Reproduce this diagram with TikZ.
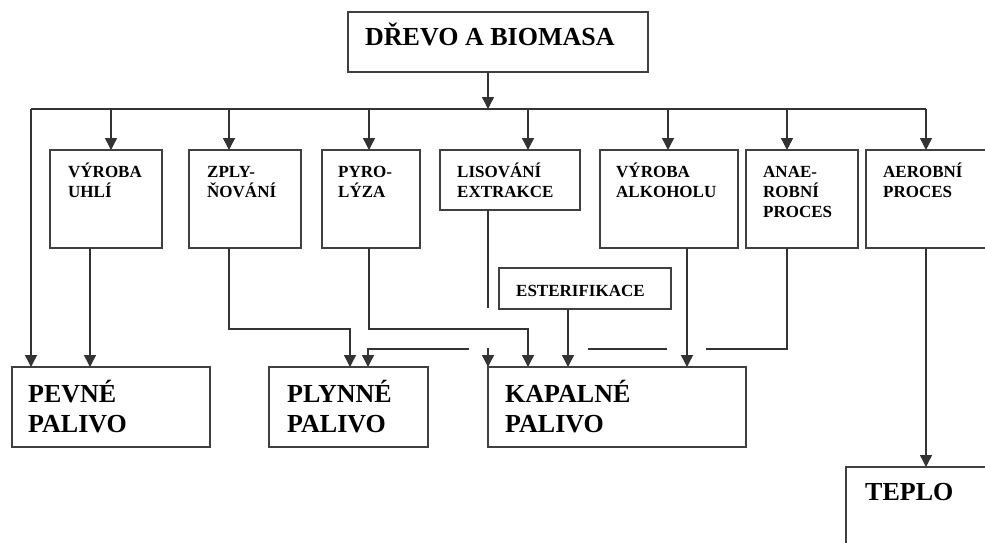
\documentclass[tikz,border=0pt]{standalone}
\usepackage{fontspec}
\setmainfont{Liberation Serif}
\usetikzlibrary{arrows.meta,calc}
\begin{document}
\begin{tikzpicture}[x=1pt,y=-1pt,
  box/.style={draw=black!75, line width=1.4pt, rectangle, inner sep=0pt, outer sep=0pt},
  small/.style={font=\bfseries\fontsize{17}{20}\selectfont, align=left, inner sep=0pt, anchor=base west},
  big/.style={font=\bfseries\fontsize{26}{30}\selectfont, align=left, inner sep=0pt, anchor=base west},
  conn/.style={draw=black!80, line width=1.4pt},
  arr/.style={conn, -{Triangle[width=12pt,length=12pt]}}]
\useasboundingbox (0,0) rectangle (985,542);
\clip (0,0) rectangle (985,542);
\fill[white] (0,0) rectangle (985,542);

% boxes
\node[box, minimum width=300, minimum height=60] (drevo) at (498,42) {};
\node[box, minimum width=112, minimum height=98] (uhli) at (106,199) {};
\node[box, minimum width=112, minimum height=98] (zply) at (245,199) {};
\node[box, minimum width=98, minimum height=98] (pyro) at (371,199) {};
\node[box, minimum width=140, minimum height=60] (lis) at (510,180) {};
\node[box, minimum width=138, minimum height=98] (alk) at (669,199) {};
\node[box, minimum width=112, minimum height=98] (anae) at (802,199) {};
\node[box, minimum width=144, minimum height=98] (aer) at (938,199) {};
\node[box, minimum width=172, minimum height=41] (ester) at (585,288.5) {};
\node[box, minimum width=198, minimum height=80] (pevne) at (111,407) {};
\node[box, minimum width=159, minimum height=80] (plynne) at (348.5,407) {};
\node[box, minimum width=258, minimum height=80] (kapalne) at (617,407) {};
\node[box, minimum width=164, minimum height=113] (teplo) at (928,523.5) {};

% labels (base anchor = baseline of last line)
\node[big] (drevoT) at ($(drevo.north west)+(17,33)$) {DŘEVO A BIOMASA};
\node[small] (uhliT) at ($(uhli.north west)+(18,47)$) {VÝROBA\\UHLÍ};
\node[small] (zplyT) at ($(zply.north west)+(18,47)$) {ZPLY-\\ŇOVÁNÍ};
\node[small] (pyroT) at ($(pyro.north west)+(16,47)$) {PYRO-\\LÝZA};
\node[small] (lisT) at ($(lis.north west)+(17,47)$) {LISOVÁNÍ\\EXTRAKCE};
\node[small] (alkT) at ($(alk.north west)+(16,47)$) {VÝROBA\\ALKOHOLU};
\node[small] (anaeT) at ($(anae.north west)+(17,67)$) {ANAE-\\ROBNÍ\\PROCES};
\node[small] (aerT) at ($(aer.north west)+(17,47)$) {AEROBNÍ\\PROCES};
\node[small] (esterT) at ($(ester.north west)+(17,28)$) {ESTERIFIKACE};
\node[big] (pevneT) at ($(pevne.north west)+(16,65)$) {PEVNÉ\\PALIVO};
\node[big] (plynneT) at ($(plynne.north west)+(18,65)$) {PLYNNÉ\\PALIVO};
\node[big] (kapalneT) at ($(kapalne.north west)+(17,65)$) {KAPALNÉ\\PALIVO};
\node[big] (teploT) at ($(teplo.north west)+(19,33)$) {TEPLO};

% bus
\coordinate (bus) at (488,109);
\coordinate (busL) at (31,109);
\coordinate (busR) at (926,109);
\draw[arr] (drevo.south -| bus) -- (bus);
\draw[conn] (busL) -- (busR);
\draw[arr] (busL) -- (busL |- pevne.north);
\coordinate (d1) at (111,109);
\coordinate (d2) at (229,109);
\coordinate (d3) at (369,109);
\coordinate (d4) at (528,109);
\coordinate (d5) at (668,109);
\coordinate (d6) at (787,109);
\draw[arr] (d1) -- (d1 |- uhli.north);
\draw[arr] (d2) -- (d2 |- zply.north);
\draw[arr] (d3) -- (d3 |- pyro.north);
\draw[arr] (d4) -- (d4 |- lis.north);
\draw[arr] (d5) -- (d5 |- alk.north);
\draw[arr] (d6) -- (d6 |- anae.north);
\draw[arr] (busR) -- (busR |- aer.north);

% outputs
\coordinate (o1) at (90,248);
\draw[arr] (o1) -- (o1 |- pevne.north);
\coordinate (o2) at (229,248);
\coordinate (j2) at (350,329);
\draw[arr] (o2) |- (j2) -- (j2 |- plynne.north);
\coordinate (o3) at (369,248);
\coordinate (j3) at (528,329);
\draw[arr] (o3) |- (j3) -- (j3 |- kapalne.north);
\coordinate (o4) at (488,210);
\coordinate (g4) at (488,308);
\coordinate (h4) at (488,348);
\draw[conn] (o4) -- (g4);
\draw[arr] (h4) -- (h4 |- kapalne.north);
\coordinate (o5) at (568,309);
\draw[arr] (o5) -- (o5 |- kapalne.north);
\coordinate (o6) at (687,248);
\draw[arr] (o6) -- (o6 |- kapalne.north);
\coordinate (o7) at (787,248);
\coordinate (s1) at (706,349);
\coordinate (s2) at (667,349);
\coordinate (s3) at (588,349);
\coordinate (s4) at (469,349);
\coordinate (j7) at (368,349);
\draw[conn] (o7) |- (s1);
\draw[conn] (s2) -- (s3);
\draw[arr] (s4) -- (j7) -- (j7 |- plynne.north);
\coordinate (o8) at (926,248);
\draw[arr] (o8) -- (o8 |- teplo.north);
\end{tikzpicture}
\end{document}
